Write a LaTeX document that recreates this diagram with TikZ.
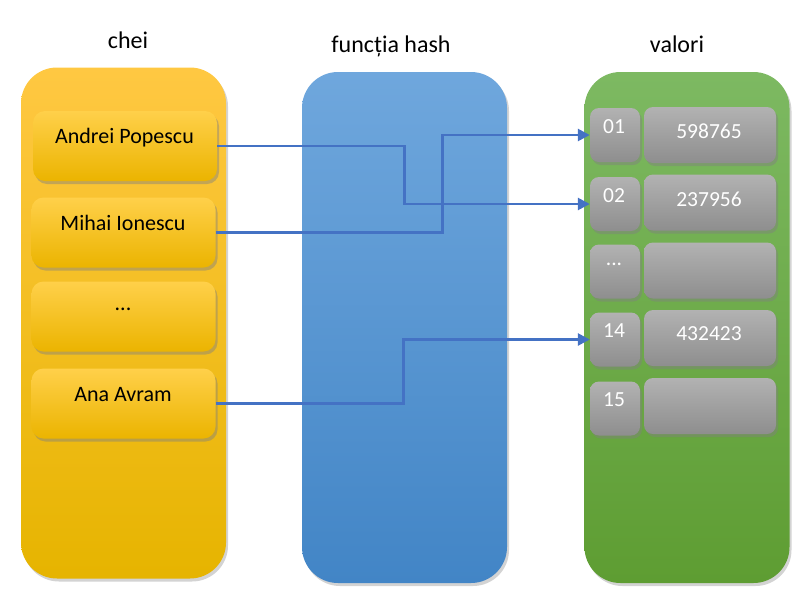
\documentclass[tikz,border=0pt]{standalone}
\usepackage{fontspec}
\setmainfont{Carlito}
\usetikzlibrary{shadows,arrows.meta}
\definecolor{ytop}{HTML}{FFC842}
\definecolor{ybot}{HTML}{E6B400}
\definecolor{iytop}{HTML}{FFD04A}
\definecolor{iybot}{HTML}{EBB400}
\definecolor{btop}{HTML}{6FA7DD}
\definecolor{bbot}{HTML}{4285C6}
\definecolor{gtop}{HTML}{7DB962}
\definecolor{gbot}{HTML}{5E9D32}
\definecolor{grtop}{HTML}{B2B2B2}
\definecolor{grbot}{HTML}{8E8E8E}
\definecolor{arrowblue}{HTML}{4472C4}
\tikzset{
  column/.style={rounded corners=36pt, minimum width=205pt, minimum height=511pt,
    drop shadow={shadow xshift=2pt, shadow yshift=-3pt, opacity=0.35}},
  keybox/.style={rounded corners=12pt, minimum width=184pt, minimum height=70pt,
    top color=iytop, bottom color=iybot,
    drop shadow={shadow xshift=2pt, shadow yshift=-3pt, opacity=0.45}},
  grbox/.style={rounded corners=9pt, top color=grtop, bottom color=grbot,
    drop shadow={shadow xshift=2pt, shadow yshift=-3pt, opacity=0.45}},
  slot/.style={grbox, minimum width=50pt, minimum height=54pt},
  val/.style={grbox, minimum width=132pt, minimum height=56pt},
  title/.style={font=\fontsize{24}{28}\selectfont, inner sep=0pt},
  txt/.style={font=\fontsize{22}{26}\selectfont, inner sep=0pt},
  wtxt/.style={font=\fontsize{21.5}{26}\selectfont, inner sep=0pt, text=white},
  link/.style={draw=arrowblue, line width=2.6pt, -{Triangle[length=12pt,width=12pt]}},
}
\begin{document}
\begin{tikzpicture}[x=1pt,y=-1pt]
\useasboundingbox (0,0) rectangle (812,603);
% titles
\node[title, anchor=base] (t1) at (128,48) {chei};
\node[title, anchor=base] (t2) at (391,52) {funcția hash};
\node[title, anchor=base] (t3) at (677,52) {valori};
% columns
\node[column, top color=ytop, bottom color=ybot] (ycol) at (123.5,323) {};
\node[column, top color=btop, bottom color=bbot] (bcol) at (404.5,327.5) {};
\node[column, top color=gtop, bottom color=gbot] (gcol) at (687,327.5) {};
% key boxes
\node[keybox] (ap) at (125,146) {};
\node[keybox] (mi) at (123.5,232.5) {};
\node[keybox] (dk) at (123.5,316.5) {};
\node[keybox] (aa) at (123.5,403.5) {};
\node[txt] (tap) at (124.5,138) {Andrei Popescu};
\node[txt] (tmi) at (123,223) {Mihai Ionescu};
\node[txt] (tdk) at (123,309) {...};
\node[txt] (taa) at (123,395) {Ana Avram};
% slots
\node[slot] (b01) at (615,135) {};
\node[slot] (b02) at (615,204) {};
\node[slot] (bdd) at (615,271.5) {};
\node[slot] (b14) at (615,339.5) {};
\node[slot] (b15) at (615,408.5) {};
\node[val] (v01) at (710,135) {};
\node[val] (v02) at (710,202.5) {};
\node[val] (vdd) at (710,270.5) {};
\node[val] (v14) at (710,338) {};
\node[val] (v15) at (710,406) {};
\node[wtxt] (l01) at (614,127) {01};
\node[wtxt] (l02) at (614,196) {02};
\node[wtxt] (ldd) at (614,264) {...};
\node[wtxt] (l14) at (614,331) {14};
\node[wtxt] (l15) at (614,400) {15};
\node[wtxt] (n01) at (709,131) {598765};
\node[wtxt] (n02) at (709,199) {237956};
\node[wtxt] (n14) at (709,334) {432423};
% connectors
\draw[link] (ap.east) -- ++(187,0) |- (b02.west);
\draw[link] (mi.east) -- ++(227,0) |- (b01.west);
\draw[link] (aa.east) -- ++(188,0) |- (b14.west);
\end{tikzpicture}
\end{document}
